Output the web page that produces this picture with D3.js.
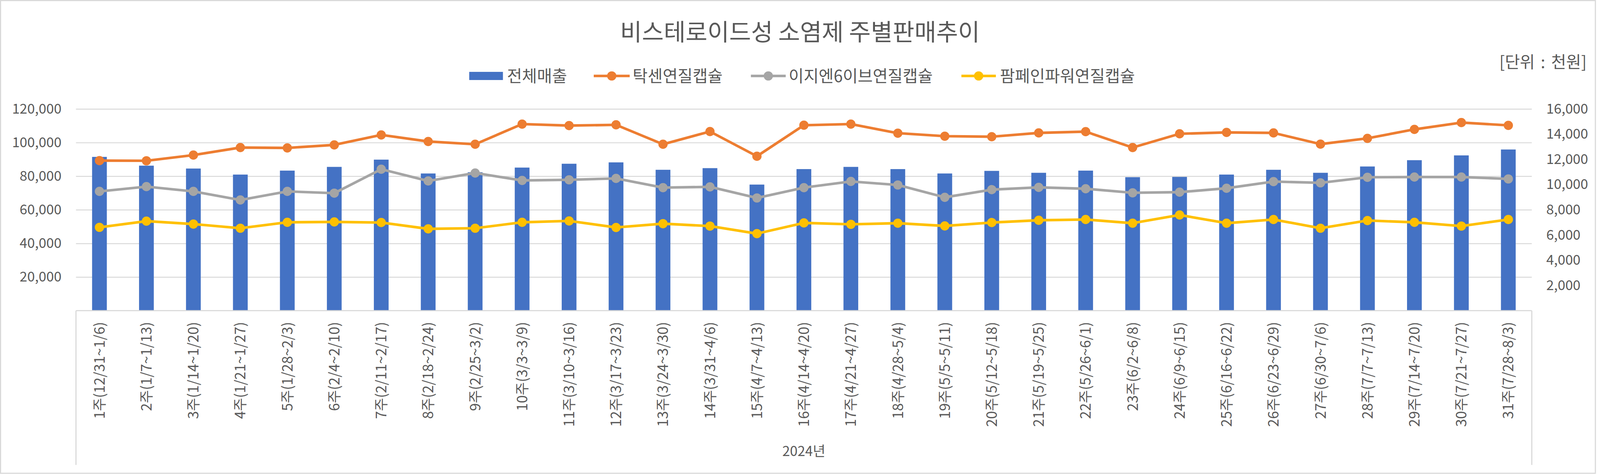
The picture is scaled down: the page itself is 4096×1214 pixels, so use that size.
<!DOCTYPE html>
<html>
<head>
<meta charset="utf-8">
<script src="https://cdn.jsdelivr.net/npm/d3@7"></script>
<style>
  html, body { margin: 0; padding: 0; background: #fff; }
  svg { display: block; }
  text { font-family: "Noto Sans CJK KR", "Noto Sans", sans-serif; fill: #595959; }
</style>
</head>
<body>
<svg id="chart" width="4096" height="1214"></svg>
<script>
// ---------- data ----------
const categories = [
  "1주(12/31~1/6)", "2주(1/7~1/13)", "3주(1/14~1/20)", "4주(1/21~1/27)", "5주(1/28~2/3)",
  "6주(2/4~2/10)", "7주(2/11~2/17)", "8주(2/18~2/24)", "9주(2/25~3/2)", "10주(3/3~3/9)",
  "11주(3/10~3/16)", "12주(3/17~3/23)", "13주(3/24~3/30)", "14주(3/31~4/6)", "15주(4/7~4/13)",
  "16주(4/14~4/20)", "17주(4/21~4/27)", "18주(4/28~5/4)", "19주(5/5~5/11)", "20주(5/12~5/18)",
  "21주(5/19~5/25)", "22주(5/26~6/1)", "23주(6/2~6/8)", "24주(6/9~6/15)", "25주(6/16~6/22)",
  "26주(6/23~6/29)", "27주(6/30~7/6)", "28주(7/7~7/13)", "29주(7/14~7/20)", "30주(7/21~7/27)",
  "31주(7/28~8/3)"
];
const totalSales = [91480, 86260, 84550, 80960, 83320, 85530, 89850, 81610, 82350, 85120,
  87400, 88220, 83810, 84790, 75010, 84220, 85530, 84220, 81610, 83160,
  82020, 83320, 79410, 79570, 80960, 83810, 82020, 85770, 89520, 92370, 95880];
const taxen = [11900, 11890, 12340, 12940, 12910, 13150, 13940, 13420, 13200, 14800,
  14680, 14740, 13200, 14210, 12250, 14710, 14800, 14080, 13840, 13800,
  14100, 14200, 12940, 14030, 14140, 14100, 13210, 13670, 14380, 14920, 14700];
const ezn6 = [9460, 9840, 9460, 8780, 9460, 9320, 11220, 10290, 10920, 10330,
  10380, 10490, 9760, 9820, 8940, 9760, 10250, 9970, 8990, 9600,
  9780, 9670, 9350, 9400, 9710, 10240, 10140, 10580, 10600, 10600, 10450];
const painPower = [6610, 7100, 6870, 6540, 7010, 7040, 6990, 6490, 6540, 7010,
  7120, 6600, 6900, 6710, 6110, 6960, 6850, 6940, 6720, 6990,
  7170, 7230, 6940, 7590, 6940, 7230, 6540, 7150, 7010, 6710, 7230];
const leftTicks = [20000, 40000, 60000, 80000, 100000, 120000];
const rightTicks = [2000, 4000, 6000, 8000, 10000, 12000, 14000, 16000];
const seriesNames = ["전체매출", "탁센연질캡슐", "이지엔6이브연질캡슐", "팜페인파워연질캡슐"];
const titleText = "비스테로이드성 소염제 주별판매추이";
const unitText = "[단위 : 천원]";
const groupLabel = "2024년";

// ---------- layout (reference pixel units, scaled to window) ----------
const REF_W = 4317;
const S = 4096 / REF_W;
const colors = { bar: "#4472C4", taxen: "#ED7D31", ezn: "#A5A5A5", pain: "#FFC000", grid: "#D9D9D9" };
const plot = { left: 205, right: 4133, top: 294.1, bottom: 838.6 };

const svg = d3.select("#chart");
const g = svg.append("g").attr("transform", `scale(${S})`);

// chart border
g.append("rect").attr("x", 1.5).attr("y", 1.5).attr("width", 4303).attr("height", 1276)
  .attr("fill", "#fff").attr("stroke", colors.grid).attr("stroke-width", 3);

const x = d3.scaleBand().domain(categories).range([plot.left, plot.right])
  .paddingInner(0.686).paddingOuter(0.343);
const yL = d3.scaleLinear().domain([0, 120000]).range([plot.bottom, plot.top]);
const yR = d3.scaleLinear().domain([0, 16000]).range([plot.bottom, plot.top]);
const cx = d => x(d) + x.bandwidth() / 2;

// gridlines
const grid = g.append("g").attr("transform", `translate(${plot.left},0)`)
  .call(d3.axisLeft(yL).tickValues(leftTicks).tickSize(-(plot.right - plot.left)).tickFormat(""));
grid.select(".domain").remove();
grid.selectAll(".tick line").attr("stroke", colors.grid).attr("stroke-width", 2.6);

// left axis labels
const axL = g.append("g").attr("transform", `translate(${plot.left - 39},0)`)
  .call(d3.axisLeft(yL).tickValues(leftTicks).tickSize(0).tickPadding(0).tickFormat(d3.format(",")));
axL.select(".domain").remove();
axL.selectAll("text").attr("font-size", 37).attr("fill", "#595959")
  .attr("font-family", '"Noto Sans CJK KR", "Noto Sans", sans-serif');

// right axis labels
const axR = g.append("g").attr("transform", `translate(${plot.right + 39},0)`)
  .call(d3.axisRight(yR).tickValues(rightTicks).tickSize(0).tickPadding(0).tickFormat(d3.format(",")));
axR.select(".domain").remove();
axR.selectAll("text").attr("font-size", 37).attr("fill", "#595959")
  .attr("font-family", '"Noto Sans CJK KR", "Noto Sans", sans-serif');

// bars
g.append("g").selectAll("rect").data(categories).join("rect")
  .attr("x", d => x(d))
  .attr("width", x.bandwidth())
  .attr("y", (d, i) => yL(totalSales[i]))
  .attr("height", (d, i) => yL(0) - yL(totalSales[i]))
  .attr("fill", colors.bar);

// category axis lines
g.append("line").attr("x1", plot.left).attr("x2", plot.right)
  .attr("y1", plot.bottom).attr("y2", plot.bottom)
  .attr("stroke", colors.grid).attr("stroke-width", 3);
[plot.left, plot.right].forEach(px => {
  g.append("line").attr("x1", px).attr("x2", px).attr("y1", plot.bottom).attr("y2", 1255)
    .attr("stroke", colors.grid).attr("stroke-width", 3);
});

// category labels
g.append("g").selectAll("text").data(categories).join("text")
  .attr("transform", d => `translate(${cx(d)},869) rotate(-90)`)
  .attr("text-anchor", "end").attr("dy", "0.36em")
  .attr("font-size", 38.4)
  .text(d => d);

// group label
g.append("text").attr("x", (plot.left + plot.right) / 2).attr("y", 1218)
  .attr("text-anchor", "middle").attr("dy", "0.36em").attr("font-size", 37)
  .text(groupLabel);

// lines
const lineSeries = [
  { vals: taxen, color: colors.taxen },
  { vals: ezn6, color: colors.ezn },
  { vals: painPower, color: colors.pain }
];
lineSeries.forEach(s => {
  const line = d3.line().x((d, i) => cx(categories[i])).y(d => yR(d));
  g.append("path").datum(s.vals).attr("d", line)
    .attr("fill", "none").attr("stroke", s.color).attr("stroke-width", 7)
    .attr("stroke-linejoin", "round").attr("stroke-linecap", "round");
  g.append("g").selectAll("circle").data(s.vals).join("circle")
    .attr("cx", (d, i) => cx(categories[i])).attr("cy", d => yR(d))
    .attr("r", 12.5).attr("fill", s.color);
});

// title
g.append("text").attr("x", REF_W / 2).attr("y", 87).attr("text-anchor", "middle")
  .attr("dy", "0.36em").attr("font-size", 64).text(titleText);

// unit
g.append("text").attr("x", 4281).attr("y", 168).attr("text-anchor", "end")
  .attr("dy", "0.36em").attr("font-size", 44).attr("word-spacing", 6).text(unitText);

// legend
const legY = 205;
const legFont = 44;
const leg = g.append("g");
leg.append("rect").attr("x", 1266).attr("y", 194).attr("width", 91).attr("height", 22).attr("fill", colors.bar);
leg.append("text").attr("x", 1368).attr("y", legY).attr("dy", "0.36em").attr("font-size", legFont).text(seriesNames[0]);
const legLines = [
  { x0: 1602, x1: 1699, tx: 1707, color: colors.taxen, name: seriesNames[1] },
  { x0: 2026, x1: 2120, tx: 2128, color: colors.ezn, name: seriesNames[2] },
  { x0: 2594, x1: 2687, tx: 2698, color: colors.pain, name: seriesNames[3] }
];
legLines.forEach(l => {
  leg.append("line").attr("x1", l.x0).attr("x2", l.x1).attr("y1", legY).attr("y2", legY)
    .attr("stroke", l.color).attr("stroke-width", 7);
  leg.append("circle").attr("cx", (l.x0 + l.x1) / 2).attr("cy", legY).attr("r", 12.5).attr("fill", l.color);
  leg.append("text").attr("x", l.tx).attr("y", legY).attr("dy", "0.36em").attr("font-size", legFont).text(l.name);
});
</script>
</body>
</html>
